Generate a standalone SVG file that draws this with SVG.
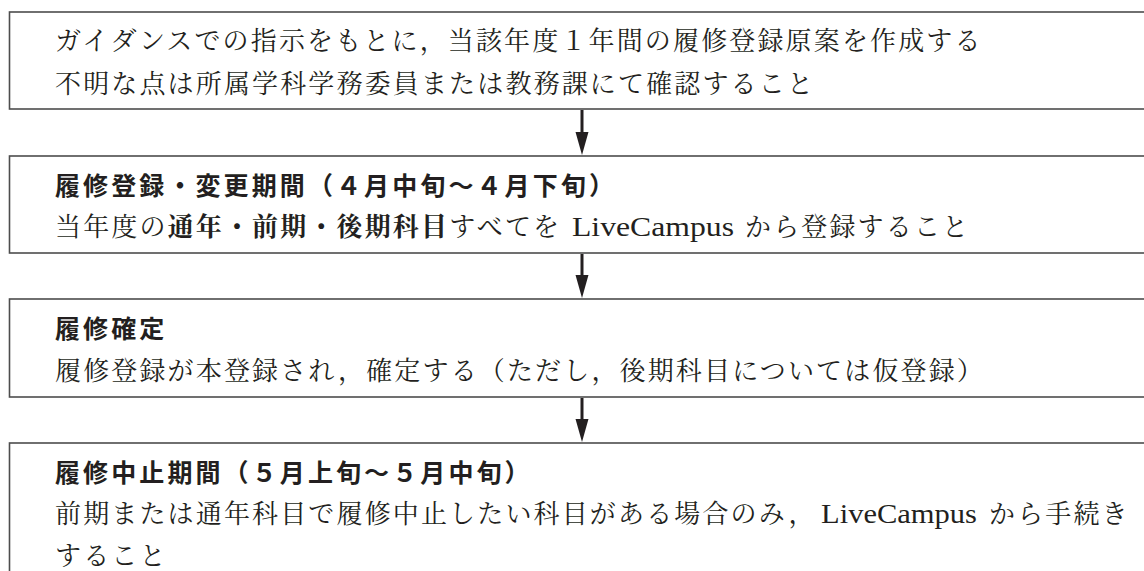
<svg xmlns="http://www.w3.org/2000/svg" width="1144" height="571" viewBox="0 0 1144 571">
<style>
.box{fill:#fff;stroke:#4d4d4d;stroke-width:1.6}
.t{font-family:"Liberation Serif","Noto Serif CJK JP","Noto Sans CJK JP",serif;font-size:26px;letter-spacing:2.15px;fill:#231f20}
.h{font-family:"Noto Sans CJK JP","Liberation Sans",sans-serif;font-size:25px;font-weight:bold;letter-spacing:3.1px;fill:#231f20}
.b{font-weight:bold}
.lat{font-size:28px;letter-spacing:0}
.ln{stroke:#231f20;stroke-width:3}
.ah{fill:#231f20}
</style>
<rect x="0" y="0" width="1144" height="571" fill="#fff"/>
<g id="node1">
<rect class="box" x="9.5" y="12" width="1150" height="97"/>
<text class="t" x="55" y="50">ガイダンスでの指示をもとに，当該年度１年間の履修登録原案を作成する</text>
<text class="t" x="55" y="93">不明な点は所属学科学務委員または教務課にて確認すること</text>
</g>
<g id="node2">
<rect class="box" x="9.5" y="156" width="1150" height="97"/>
<text class="h" x="55" y="195">履修登録・変更期間（４月中旬～４月下旬）</text>
<text class="t" x="55" y="236">当年度の<tspan class="b">通年・前期・後期科目</tspan>すべてを<tspan class="lat" x="572" textLength="162" lengthAdjust="spacingAndGlyphs">LiveCampus</tspan><tspan x="745">から登録すること</tspan></text>
</g>
<g id="node3">
<rect class="box" x="9.5" y="299" width="1150" height="98"/>
<text class="h" x="55" y="338">履修確定</text>
<text class="t" x="55" y="380">履修登録が本登録され，確定する（ただし，後期科目については仮登録）</text>
</g>
<g id="node4">
<rect class="box" x="9.5" y="443" width="1150" height="140"/>
<text class="h" x="55" y="482">履修中止期間（５月上旬～５月中旬）</text>
<text class="t" x="55" y="523">前期または通年科目で履修中止したい科目がある場合のみ，<tspan class="lat" x="821" textLength="156" lengthAdjust="spacingAndGlyphs">LiveCampus</tspan><tspan x="989">から手続き</tspan></text>
<text class="t" x="55" y="565">すること</text>
</g>
<g id="connectors">
<line class="ln" x1="582" y1="110" x2="582" y2="135"/>
<polygon class="ah" points="575.5,132 588.5,132 582,155"/>
<line class="ln" x1="582" y1="254" x2="582" y2="278"/>
<polygon class="ah" points="575.5,275 588.5,275 582,298"/>
<line class="ln" x1="582" y1="398" x2="582" y2="422"/>
<polygon class="ah" points="575.5,419 588.5,419 582,442"/>
</g>
</svg>
